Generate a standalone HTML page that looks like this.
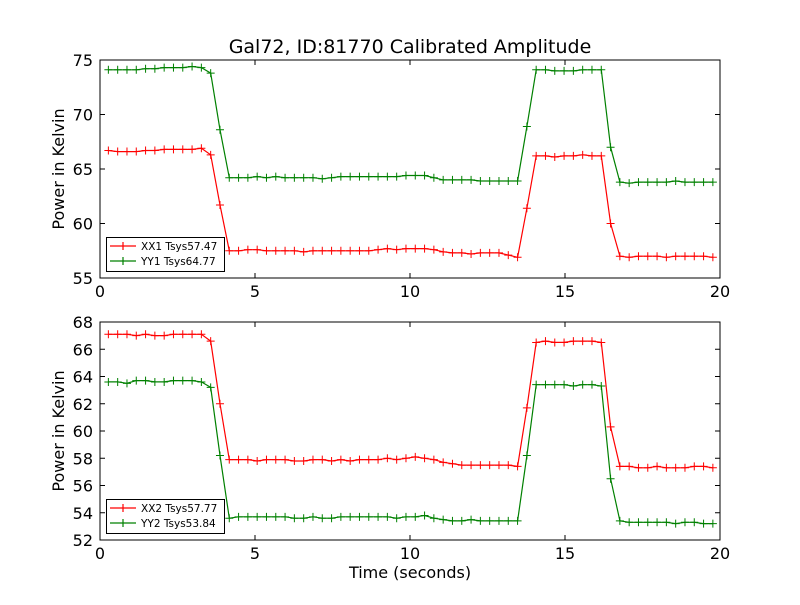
<!DOCTYPE html>
<html><head><meta charset="utf-8"><style>
body{margin:0;background:#fff;width:800px;height:600px;overflow:hidden}
svg{font-family:"DejaVu Sans","Liberation Sans",sans-serif}
</style></head><body>
<svg id="c" width="800" height="600" xmlns="http://www.w3.org/2000/svg">
<rect width="800" height="600" fill="#fff"/>
<text x="410" y="53" font-size="19" text-anchor="middle">Gal72, ID:81770 Calibrated Amplitude</text>
<text x="410" y="578" font-size="16" text-anchor="middle">Time (seconds)</text>
</svg>
<script>
const times=[0.27,0.57,0.87,1.17,1.47,1.77,2.07,2.37,2.67,2.97,3.27,3.57,3.87,4.17,4.47,4.77,5.07,5.37,5.67,5.97,6.27,6.57,6.87,7.17,7.47,7.77,8.07,8.37,8.67,8.97,9.27,9.57,9.87,10.17,10.47,10.77,11.07,11.37,11.67,11.97,12.27,12.57,12.87,13.17,13.47,13.77,14.07,14.37,14.67,14.97,15.27,15.57,15.87,16.17,16.47,16.77,17.07,17.37,17.67,17.97,18.27,18.57,18.87,19.17,19.47,19.77];
const xx1=[66.7,66.6,66.6,66.6,66.7,66.7,66.8,66.8,66.8,66.8,66.9,66.3,61.7,57.5,57.5,57.6,57.6,57.5,57.5,57.5,57.5,57.4,57.5,57.5,57.5,57.5,57.5,57.5,57.5,57.6,57.7,57.6,57.7,57.7,57.7,57.6,57.4,57.3,57.3,57.2,57.3,57.3,57.3,57.1,56.9,61.4,66.2,66.2,66.1,66.2,66.2,66.3,66.2,66.2,60.0,57.0,56.9,57.0,57.0,57.0,56.9,57.0,57.0,57.0,57.0,56.9];
const yy1=[74.1,74.1,74.1,74.1,74.2,74.2,74.3,74.3,74.3,74.4,74.3,73.8,68.6,64.2,64.2,64.2,64.3,64.2,64.3,64.2,64.2,64.2,64.2,64.1,64.2,64.3,64.3,64.3,64.3,64.3,64.3,64.3,64.4,64.4,64.4,64.2,64.0,64.0,64.0,64.0,63.9,63.9,63.9,63.9,63.9,68.9,74.1,74.1,74.0,74.0,74.0,74.1,74.1,74.1,67.0,63.8,63.7,63.8,63.8,63.8,63.8,63.9,63.8,63.8,63.8,63.8];
const xx2=[67.1,67.1,67.1,67.0,67.1,67.0,67.0,67.1,67.1,67.1,67.1,66.6,62.0,57.9,57.9,57.9,57.8,57.9,57.9,57.9,57.8,57.8,57.9,57.9,57.8,57.9,57.8,57.9,57.9,57.9,58.0,57.9,58.0,58.1,58.0,57.9,57.7,57.6,57.5,57.5,57.5,57.5,57.5,57.5,57.4,61.7,66.5,66.6,66.5,66.5,66.6,66.6,66.6,66.5,60.3,57.4,57.4,57.3,57.3,57.4,57.3,57.3,57.3,57.4,57.4,57.3];
const yy2=[63.6,63.6,63.5,63.7,63.7,63.6,63.6,63.7,63.7,63.7,63.6,63.2,58.2,53.6,53.7,53.7,53.7,53.7,53.7,53.7,53.6,53.6,53.7,53.6,53.6,53.7,53.7,53.7,53.7,53.7,53.7,53.6,53.7,53.7,53.8,53.6,53.5,53.4,53.4,53.5,53.4,53.4,53.4,53.4,53.4,58.2,63.4,63.4,63.4,63.4,63.3,63.4,63.4,63.3,56.5,53.4,53.3,53.3,53.3,53.3,53.3,53.2,53.3,53.3,53.2,53.2];
const xTicks=[0,5,10,15,20];
const yTicksTop=[55,60,65,70,75];
const yTicksBot=[52,54,56,58,60,62,64,66,68];
const legendTop=["XX1 Tsys57.47","YY1 Tsys64.77"];
const legendBot=["XX2 Tsys57.77","YY2 Tsys53.84"];

const svg=document.getElementById('c');
const NS='http://www.w3.org/2000/svg';
function mk(tag,attrs,parent){const e=document.createElementNS(NS,tag);for(const k in attrs)e.setAttribute(k,attrs[k]);(parent||svg).appendChild(e);return e;}
function panel(name,top,bottom,ymin,ymax,yticks,series,colors,labels){
  const L=100,R=720;
  const g=mk('g',{});
  
  
  const sx=t=>L+(t-0)/(20-0)*(R-L);
  const sy=v=>bottom-(v-ymin)/(ymax-ymin)*(bottom-top);
  series.forEach((s,si)=>{
    const pts=s.map((v,i)=>sx(times[i]).toFixed(1)+','+sy(v).toFixed(1)).join(' ');
    const pl=mk('polyline',{points:pts,fill:'none',stroke:colors[si],'stroke-width':1.2},g);
    
    
    let d='';
    s.forEach((v,i)=>{const x=sx(times[i]),y=sy(v);d+=`M${x-4},${y}h8M${x},${y-4}v8`;});
    const mp=mk('path',{d:d,stroke:colors[si],'stroke-width':1},g);
    
    
  });
  const fr=mk('rect',{x:L,y:top,width:R-L,height:bottom-top,fill:'none',stroke:'#000','stroke-width':1},g);
  
  
  xTicks.forEach(t=>{
    const x=sx(t);
    mk('path',{d:`M${x},${bottom}v-5M${x},${top}v5`,stroke:'#000'},g);
    const tx=mk('text',{x:x,y:bottom+19,'font-size':16,'text-anchor':'middle'},g);
    tx.textContent=t;
    
    
  });
  yticks.forEach(v=>{
    const y=sy(v);
    mk('path',{d:`M${L},${y}h5M${R},${y}h-5`,stroke:'#000'},g);
    const tx=mk('text',{x:L-7,y:y+6,'font-size':16,'text-anchor':'end'},g);
    tx.textContent=v;
    
    
  });
  const yl=mk('text',{x:0,y:0,'font-size':16,'text-anchor':'middle',transform:`translate(64,${(top+bottom)/2}) rotate(-90)`},g);
  yl.textContent='Power in Kelvin';
  
  
  const lg=mk('g',{},g);
  
  
  mk('rect',{x:106.5,y:bottom-40.5,width:118,height:34,fill:'#fff',stroke:'#000'},lg);
  labels.forEach((lb,i)=>{
    const y=bottom-32+i*15;
    mk('path',{d:`M110,${y}h26M123,${y-4}v8`,stroke:colors[i],'stroke-width':1.2},lg);
    const tx=mk('text',{x:141,y:y+4,'font-size':10.5},lg);
    tx.textContent=lb;
    
    
  });
}
panel('top-panel',60,278,55,75,yTicksTop,[xx1,yy1],['#ff0000','#008000'],legendTop);
panel('bottom-panel',322,540,52,68,yTicksBot,[xx2,yy2],['#ff0000','#008000'],legendBot);
</script>
</body></html>
